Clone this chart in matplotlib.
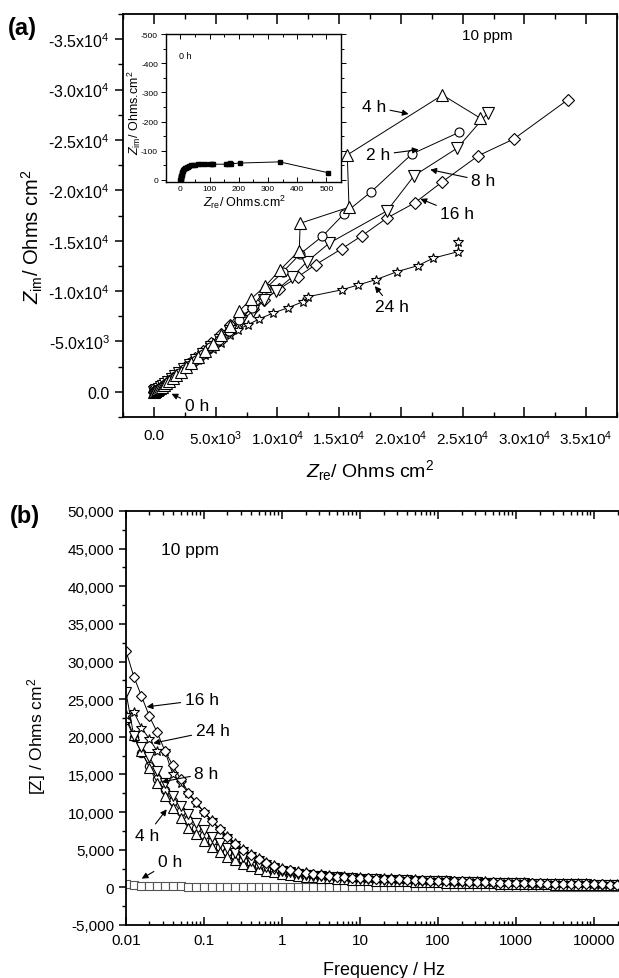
import numpy as np
import matplotlib
matplotlib.use('Agg')
import matplotlib.pyplot as plt
from matplotlib.ticker import MultipleLocator, LogLocator, NullFormatter

plt.rcParams['font.family'] = ['Liberation Sans', 'DejaVu Sans']
plt.rcParams['mathtext.fontset'] = 'custom'
plt.rcParams['mathtext.rm'] = 'Liberation Sans'
plt.rcParams['mathtext.it'] = 'Liberation Sans:italic'
plt.rcParams['mathtext.default'] = 'regular'

# ---------------- (a) Nyquist data, 10 ppm ----------------
re_2h = [0, 50, 110, 190, 290, 410, 560, 730, 930, 1160, 1420, 1720, 2060, 2450, 2890, 3390,
         3950, 4580, 5280, 6060, 6930, 7920, 9100, 10420, 11850, 13650, 15390, 17610, 20900, 24720]
im_2h = [0, -30, -75, -140, -220, -320, -450, -600, -780, -990, -1240, -1530, -1860, -2240, -2680, -3190,
         -3760, -4420, -5180, -6060, -7100, -8300, -10300, -11870, -13690, -15440, -17660, -19870, -23610, -25760]

re_4h = [0, 60, 130, 220, 330, 460, 620, 800, 1010, 1250, 1520, 1830, 2180, 2580, 3030, 3540,
         4120, 4760, 5440, 6130, 6930, 7870, 9030, 10240, 11770, 11850, 15800, 15660, 23370, 26410]
im_4h = [0, -40, -90, -160, -250, -360, -500, -660, -850, -1080, -1350, -1660, -2010, -2420, -2890, -3420,
         -4030, -4700, -5620, -6580, -8030, -9230, -10510, -12130, -14020, -16730, -18320, -23510, -29460, -27180]

re_8h = [0, 55, 120, 200, 300, 420, 570, 740, 940, 1170, 1430, 1730, 2070, 2460, 2900, 3400,
         3960, 4600, 5330, 6150, 7050, 8000, 8950, 9890, 11200, 12360, 14190, 18880, 21080, 24580, 27040]
im_8h = [0, -35, -80, -145, -225, -325, -455, -605, -790, -1000, -1250, -1540, -1870, -2250, -2690, -3180,
         -3750, -4400, -5150, -6000, -7000, -8000, -9080, -10050, -11400, -12870, -14750, -17960, -21460, -24200, -27680]

re_16h = [0, 30, 90, 170, 280, 420, 600, 830, 1100, 1430, 1810, 2250, 2750, 3320, 3950, 4650, 5400,
          6200, 7070, 8000, 8950, 10160, 11630, 13110, 15200, 16870, 18890, 21120, 23370, 26280, 29150, 33530]
im_16h = [0, -20, -60, -120, -210, -330, -500, -720, -990, -1320, -1720, -2190, -2730, -3350, -4050, -4850, -5700,
          -6600, -7570, -8230, -9160, -10220, -11380, -12630, -14190, -15510, -17260, -18750, -20860, -23440, -25100, -29000]

re_24h = [0, 50, 110, 190, 290, 410, 560, 740, 950, 1190, 1470, 1790, 2160, 2570, 3030, 3550, 4120, 4750,
          5420, 6130, 6800, 7600, 8540, 9620, 10830, 12110, 12520, 15210, 16550, 18000, 19700, 21390, 22600,
          24660, 24660]
im_24h = [0, -40, -90, -160, -250, -360, -490, -650, -840, -1060, -1310, -1600, -1930, -2300, -2710, -3170,
          -3680, -4240, -4880, -5590, -6150, -6650, -7240, -7800, -8330, -8960, -9450, -10120, -10610, -11140,
          -11930, -12530, -13260, -13920, -14910]

# 0 h (inset, Ohms.cm2)
re_0h = [0.5, 0.8, 1.2, 1.6, 2.1, 2.7, 3.4, 4.2, 5.1, 6.2, 7.5, 9.0, 10.8, 12.9, 15.3, 18.2, 21.6, 25.6,
         30.4, 36, 43, 51, 60, 72, 86, 100, 108, 112, 155, 162, 170, 175, 205, 340, 505]
im_0h = [-0.5, -2, -4, -6, -9, -12, -15, -18, -21, -25, -28, -31, -34, -37, -40, -42, -44, -46,
         -48, -50, -51, -52, -53, -53, -54, -54, -54, -54, -54, -55, -57, -56, -58, -62, -25]

# ---------------- (b) Bode |Z| data ----------------
freq = [0.01, 0.0126, 0.0158, 0.02, 0.0251, 0.0316, 0.0398, 0.0501, 0.0631, 0.0794,
        0.1, 0.126, 0.158, 0.2, 0.251, 0.316, 0.398, 0.501, 0.631, 0.794,
        1, 1.26, 1.58, 2, 2.51, 3.16, 3.98, 5.01, 6.31, 7.94,
        10, 12.6, 15.8, 20, 25.1, 31.6, 39.8, 50.1, 63.1, 79.4,
        100, 126, 158, 200, 251, 316, 398, 501, 631, 794,
        1000, 1260, 1580, 2000, 2510, 3160, 3980, 5010, 6310, 7940,
        10000, 12600, 15800, 19950]
z_0h = [505, 345, 215, 180, 172, 165, 158, 118, 108, 102,
        96, 92, 88, 84, 80, 76, 72, 68, 64, 60,
        56, 52, 48, 45, 42, 39, 36, 33, 30, 28,
        26, 24, 22, 21, 20, 19, 18, 17, 16, 15,
        15, 14, 14, 13, 13, 12, 12, 12, 11, 11,
        11, 10, 10, 10, 10, 9, 9, 9, 9, 9,
        9, 8, 8, 8]
z_2h = [22300, 20000, 17900, 16100, 14400, 12900, 11500, 10100, 8900, 7900,
        7000, 6150, 5400, 4750, 4150, 3650, 3200, 2800, 2480, 2200,
        1980, 1800, 1650, 1530, 1430, 1340, 1260, 1190, 1130, 1080,
        1030, 990, 950, 910, 875, 840, 810, 780, 750, 720,
        695, 670, 645, 620, 595, 570, 550, 530, 510, 490,
        470, 450, 435, 420, 405, 390, 375, 360, 345, 330,
        315, 300, 290, 280]
z_4h = [22600, 20200, 18100, 15900, 13900, 12150, 10600, 9270, 7940, 7100,
        6200, 5400, 4700, 4100, 3600, 3150, 2780, 2480, 2220, 2000,
        1820, 1670, 1540, 1430, 1340, 1260, 1190, 1130, 1080, 1030,
        990, 950, 910, 875, 840, 810, 780, 750, 720, 695,
        670, 645, 620, 600, 580, 560, 540, 520, 500, 480,
        460, 440, 425, 410, 395, 380, 365, 350, 335, 320,
        305, 295, 285, 275]
z_8h = [25900, 20100, 18700, 17300, 15500, 13800, 12100, 10800, 9700, 8600,
        7600, 6700, 5900, 5200, 4550, 4000, 3500, 3100, 2750, 2450,
        2200, 2000, 1830, 1690, 1570, 1470, 1390, 1320, 1260, 1210,
        1160, 1120, 1080, 1040, 1000, 965, 930, 900, 870, 840,
        810, 780, 750, 720, 695, 670, 645, 620, 595, 570,
        550, 530, 510, 490, 470, 455, 440, 425, 410, 395,
        380, 365, 355, 345]
z_16h = [31400, 28000, 25400, 22700, 20600, 18100, 16200, 14400, 12600, 11300,
         10000, 8800, 7700, 6700, 5800, 5000, 4300, 3750, 3250, 2850,
         2500, 2250, 2050, 1880, 1740, 1620, 1520, 1440, 1370, 1310,
         1260, 1210, 1170, 1130, 1090, 1050, 1010, 975, 940, 905,
         870, 840, 810, 780, 750, 720, 690, 660, 635, 610,
         585, 560, 540, 520, 500, 480, 460, 445, 430, 415,
         400, 385, 370, 360]
z_24h = [22900, 23300, 21200, 19700, 18100, 18100, 15000, 13900, 12500, 11200,
         10000, 8900, 7800, 6800, 5900, 5100, 4400, 3850, 3350, 2950,
         2600, 2350, 2150, 1980, 1840, 1720, 1620, 1540, 1470, 1410,
         1360, 1310, 1270, 1230, 1190, 1150, 1110, 1075, 1040, 1005,
         970, 940, 910, 880, 850, 820, 790, 760, 735, 710,
         685, 660, 640, 620, 600, 580, 560, 545, 530, 515,
         500, 485, 470, 460]

W, H = 619, 979
fig = plt.figure(figsize=(W / 100, H / 100), dpi=100)


def box(l, t, r, b):
    return [l / W, 1 - b / H, (r - l) / W, (b - t) / H]


def op(m, ms, **kw):
    d = dict(marker=m, ms=ms, mfc='white', mec='k', mew=0.8, color='k', lw=0.7)
    d.update(kw)
    return d


arrow = dict(arrowstyle='-|>', color='k', lw=0.8, mutation_scale=9, shrinkA=1, shrinkB=0)

# ---------------- panel (a) ----------------
ax = fig.add_axes(box(123, 15, 617, 418))
ax.plot(re_0h, im_0h, 's', ms=5, color='k')
ax.plot(re_24h, im_24h, **op('*', 7.5))
ax.plot(re_16h, im_16h, **op('D', 6))
ax.plot(re_8h, im_8h, **op('v', 8))
ax.plot(re_2h, im_2h, **op('o', 6.5))
ax.plot(re_4h, im_4h, **op('^', 8))
ax.set_xlim(-2500, 37500)
ax.set_ylim(2500, -37500)
xt = [0, 5000, 10000, 15000, 20000, 25000, 30000, 35000]
ax.set_xticks(xt)
ax.set_xticklabels(['0.0', '5.0x10$^3$', '1.0x10$^4$', '1.5x10$^4$', '2.0x10$^4$',
                    '2.5x10$^4$', '3.0x10$^4$', '3.5x10$^4$'], fontsize=11)
yt = [0, -5000, -10000, -15000, -20000, -25000, -30000, -35000]
ax.set_yticks(yt)
ax.set_yticklabels(['0.0', '-5.0x10$^3$', '-1.0x10$^4$', '-1.5x10$^4$', '-2.0x10$^4$',
                    '-2.5x10$^4$', '-3.0x10$^4$', '-3.5x10$^4$'], fontsize=11.5)
ax.xaxis.set_minor_locator(MultipleLocator(2500))
ax.yaxis.set_minor_locator(MultipleLocator(2500))
ax.tick_params(axis='x', which='major', direction='in', length=7, width=1.1, pad=8, top=True)
ax.tick_params(axis='x', which='minor', direction='in', length=3.5, width=1.0, top=True)
ax.tick_params(axis='y', which='major', direction='out', length=6, width=1.1)
ax.tick_params(axis='y', which='minor', direction='out', length=3.5, width=1.0)
for s in ax.spines.values():
    s.set_linewidth(1.3)
ax.set_xlabel(r'$\mathit{Z}_{\mathrm{re}}$/ Ohms cm$^2$', fontsize=14)
ax.xaxis.set_label_coords(0.5, -0.1)
ax.set_ylabel(r'$\mathit{Z}_{\mathrm{im}}$/ Ohms cm$^2$', fontsize=14.5)
ax.yaxis.set_label_coords(-0.158, 0.449)
ax.text(27030, -35410, '10 ppm', fontsize=11, ha='center', va='center')
for lab, txy, xy in [('4 h', (17810, -28270), (20630, -27580)),
                     ('2 h', (18140, -23510), (21440, -24040)),
                     ('8 h', (26680, -20930), (22380, -22050)),
                     ('16 h', (24580, -17660), (21580, -19150)),
                     ('24 h', (19260, -8430), (17890, -10490)),
                     ('0 h', (3470, 1390), (1430, 200))]:
    ax.annotate(lab, xy=xy, xytext=txy, fontsize=12.5, ha='center', va='center',
                arrowprops=arrow)

# inset (0 h)
ai = fig.add_axes(box(165.7, 35, 341, 183.3))
ai.plot(re_0h, im_0h, 's-', ms=2.8, color='k', lw=0.7)
ai.set_xlim(-50, 550)
ai.set_ylim(8, -500)
ai.set_xticks([0, 100, 200, 300, 400, 500])
ai.set_yticks([0, -100, -200, -300, -400, -500])
ai.set_yticklabels(['0', '-100', '-200', '-300', '-400', '-500'])
ai.xaxis.set_minor_locator(MultipleLocator(50))
ai.yaxis.set_minor_locator(MultipleLocator(50))
ai.tick_params(which='both', labelsize=6, width=0.7, pad=2)
ai.tick_params(axis='x', which='major', direction='in', length=3.5, top=True)
ai.tick_params(axis='x', which='minor', direction='in', length=2, top=True)
ai.tick_params(axis='y', which='major', direction='out', length=3.5)
ai.tick_params(axis='y', which='minor', direction='out', length=2)
ai.tick_params(axis='y', which='both', right=True)
for s in ai.spines.values():
    s.set_linewidth(1.0)
ai.set_xlabel(r'$\mathit{Z}_{\mathrm{re}}$/ Ohms.cm$^2$', fontsize=9)
ai.xaxis.set_label_coords(0.452, -0.07)
ai.set_ylabel(r'$\mathit{Z}_{\mathrm{im}}$/ Ohms.cm$^2$', fontsize=9)
ai.yaxis.set_label_coords(-0.13, 0.477)
ai.text(-5, -425, '0 h', fontsize=6.5, ha='left', va='center')

# ---------------- panel (b) ----------------
bx = fig.add_axes(box(126, 512, 620, 926))
bx.plot(freq, z_0h, **op('s', 5.5, mec='#555555', color='#555555'))
bx.plot(freq, z_2h, **op('o', 6))
bx.plot(freq, z_4h, **op('^', 7))
bx.plot(freq, z_8h, **op('v', 7))
bx.plot(freq, z_24h, **op('*', 7.5))
bx.plot(freq, z_16h, **op('D', 5.5))
bx.set_xscale('log')
bx.set_xlim(0.01, 21500)
bx.set_ylim(-5000, 50000)
bx.set_xticks([0.01, 0.1, 1, 10, 100, 1000, 10000])
bx.set_xticklabels(['0.01', '0.1', '1', '10', '100', '1000', '10000'], fontsize=11)
bx.xaxis.set_minor_locator(LogLocator(base=10, subs=np.arange(2, 10)))
bx.xaxis.set_minor_formatter(NullFormatter())
yb = list(range(-5000, 50001, 5000))
bx.set_yticks(yb)
bx.set_yticklabels([f'{v:,}' for v in yb], fontsize=11)
bx.yaxis.set_minor_locator(MultipleLocator(2500))
bx.tick_params(axis='x', which='major', direction='in', length=6, width=1.1, pad=6, top=True)
bx.tick_params(axis='x', which='minor', direction='in', length=3, width=1.0, top=True)
bx.tick_params(axis='y', which='major', direction='out', length=5, width=1.1)
bx.tick_params(axis='y', which='minor', direction='out', length=3, width=1.0)
for s in bx.spines.values():
    s.set_linewidth(1.3)
bx.spines['right'].set_visible(False)
bx.set_xlabel('Frequency / Hz', fontsize=13)
bx.xaxis.set_label_coords(0.522, -0.087)
bx.set_ylabel('[Z] / Ohms cm$^2$', fontsize=12.5)
bx.yaxis.set_label_coords(-0.158, 0.459)
bx.text(0.066, 44850, '10 ppm', fontsize=12.5, ha='center', va='center')
for lab, txy, xy in [('16 h', (0.0935, 24900), (0.0184, 23980)),
                     ('24 h', (0.129, 20790), (0.0224, 19150)),
                     ('8 h', (0.108, 15160), (0.0286, 14000)),
                     ('4 h', (0.0184, 6915), (0.0333, 10370)),
                     ('0 h', (0.0366, 3370), (0.0159, 1160))]:
    bx.annotate(lab, xy=xy, xytext=txy, fontsize=12.5, ha='center', va='center',
                arrowprops=arrow)

fig.text(8 / W, 1 - 29 / H, '(a)', fontsize=17, fontweight='bold', ha='left', va='center')
fig.text(10 / W, 1 - 517 / H, '(b)', fontsize=17, fontweight='bold', ha='left', va='center')

fig.savefig('out.png', dpi=100)
